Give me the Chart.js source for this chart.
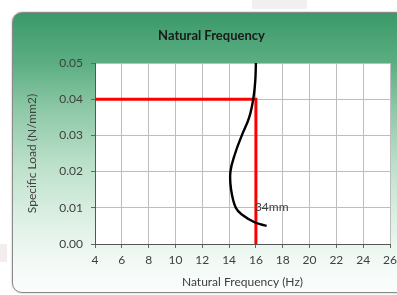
<!DOCTYPE html>
<html>
<head>
<meta charset="utf-8">
<script src="https://cdn.jsdelivr.net/npm/chart.js@4.4.1/dist/chart.umd.min.js"></script>
<style>
  html, body { margin: 0; padding: 0; background: #ffffff; overflow: hidden; }
  #wrap { position: relative; width: 397px; height: 295px; }
  #card {
    position: absolute; left: 12px; top: 12px; width: 420px; height: 279px;
    border: 1px solid #8a8a8a; border-radius: 10px;
    box-shadow: 0 0 2px rgba(0,0,0,0.35);
    background: linear-gradient(to bottom, #3a996a 0%, #5cae82 18%, #8fc9a8 35%, #bde1cb 55%, #dff1e6 75%, #f3faf6 90%, #fbfdfc 100%);
  }
  #smudge1 { position: absolute; left: 252px; top: 0; width: 55px; height: 9px; background: #f1efef; }
  #smudge2 { position: absolute; left: 0; top: 244px; width: 7px; height: 18px; background: #f3eded; }
  canvas { position: absolute; left: 0; top: 0; }
</style>
</head>
<body>
<div id="wrap">
  <div id="smudge1"></div>
  <div id="smudge2"></div>
  <div id="card"></div>
  <canvas id="c" width="397" height="295"></canvas>
</div>
<script>
// ---- data ----
const curveFreq = [16.8, 15.9, 15.0, 14.5, 14.15, 14.1, 14.45, 14.95, 15.5, 15.8, 15.95, 16.0];
const curveLoad = [0.005, 0.006, 0.008, 0.010, 0.015, 0.020, 0.025, 0.030, 0.035, 0.040, 0.045, 0.050];
const markerFreq = [4, 16, 16];
const markerLoad = [0.04, 0.04, 0.0];
const curveLabel = "34mm";
const curveLabelPos = [16, 0.01];
const xTicks = [4, 6, 8, 10, 12, 14, 16, 18, 20, 22, 24, 26];
const yTicks = [0.00, 0.01, 0.02, 0.03, 0.04, 0.05];

const FONT = "Lato, 'Open Sans', sans-serif";

const plotBg = {
  id: 'plotBg',
  beforeDraw(chart) {
    const {ctx, chartArea: a} = chart;
    ctx.save();
    ctx.fillStyle = '#ffffff';
    ctx.fillRect(a.left, a.top, a.right - a.left, a.bottom - a.top);
    ctx.restore();
  }
};

const seriesLabel = {
  id: 'seriesLabel',
  afterDatasetsDraw(chart) {
    const {ctx, scales} = chart;
    const x = scales.x.getPixelForValue(curveLabelPos[0]);
    const y = scales.y.getPixelForValue(curveLabelPos[1]);
    ctx.save();
    ctx.font = "12px " + FONT;
    ctx.fillStyle = '#404040';
    ctx.textAlign = 'left';
    ctx.textBaseline = 'middle';
    ctx.fillText(curveLabel, x - 1, y - 1);
    ctx.restore();
  }
};

new Chart(document.getElementById('c'), {
  type: 'scatter',
  data: {
    datasets: [
      {
        label: 'Marker',
        data: markerFreq.map((f, i) => ({x: f, y: markerLoad[i]})),
        showLine: true,
        borderColor: '#ff0000',
        borderWidth: 3,
        pointRadius: 0,
        tension: 0,
        order: 2
      },
      {
        label: curveLabel,
        data: curveFreq.map((f, i) => ({x: f, y: curveLoad[i]})),
        showLine: true,
        borderColor: '#000000',
        borderWidth: 2.4,
        pointRadius: 0,
        tension: 0.4,
        order: 1
      }
    ]
  },
  options: {
    responsive: false,
    animation: false,
    devicePixelRatio: 1,
    layout: { padding: { left: 33, right: 7, top: 0, bottom: 0 } },
    plugins: {
      legend: { display: false },
      tooltip: { enabled: false },
      title: {
        display: true,
        text: 'Natural Frequency',
        color: '#1a1a1a',
        font: { family: FONT, size: 13, weight: 'bold' },
        padding: { top: 28.2, bottom: 19.2 }
      }
    },
    scales: {
      x: {
        type: 'linear',
        min: 4, max: 26,
        afterBuildTicks(scale) { scale.ticks = xTicks.map(v => ({value: v})); },
        afterFit(scale) { scale.height = 51; scale.paddingLeft = 0; scale.paddingRight = 0; },
        ticks: {
          color: '#404040', font: { family: FONT, size: 12 },
          padding: 5, maxRotation: 0, autoSkip: false
        },
        grid: { color: '#bdbdbd', lineWidth: 1, tickLength: 4, tickColor: '#666666' },
        border: { color: '#555555', width: 1 },
        title: {
          display: true, text: 'Natural Frequency (Hz)', color: '#404040',
          font: { family: FONT, size: 12 }, padding: { top: 0, bottom: 5.8 }
        }
      },
      y: {
        type: 'linear',
        min: 0, max: 0.05,
        afterBuildTicks(scale) { scale.ticks = yTicks.map(v => ({value: v})); },
        afterFit(scale) { scale.width = 62; },
        ticks: {
          color: '#404040', font: { family: FONT, size: 12 },
          padding: 8,
          callback: v => Number(v).toFixed(2)
        },
        grid: { color: '#bdbdbd', lineWidth: 1, tickLength: 4, tickColor: '#666666' },
        border: { color: '#555555', width: 1 },
        title: {
          display: true, text: 'Specific Load (N/mm2)', color: '#404040',
          font: { family: FONT, size: 12 }, padding: { top: -8.2, bottom: 0 }
        }
      }
    }
  },
  plugins: [plotBg, seriesLabel]
});
</script>
</body>
</html>
